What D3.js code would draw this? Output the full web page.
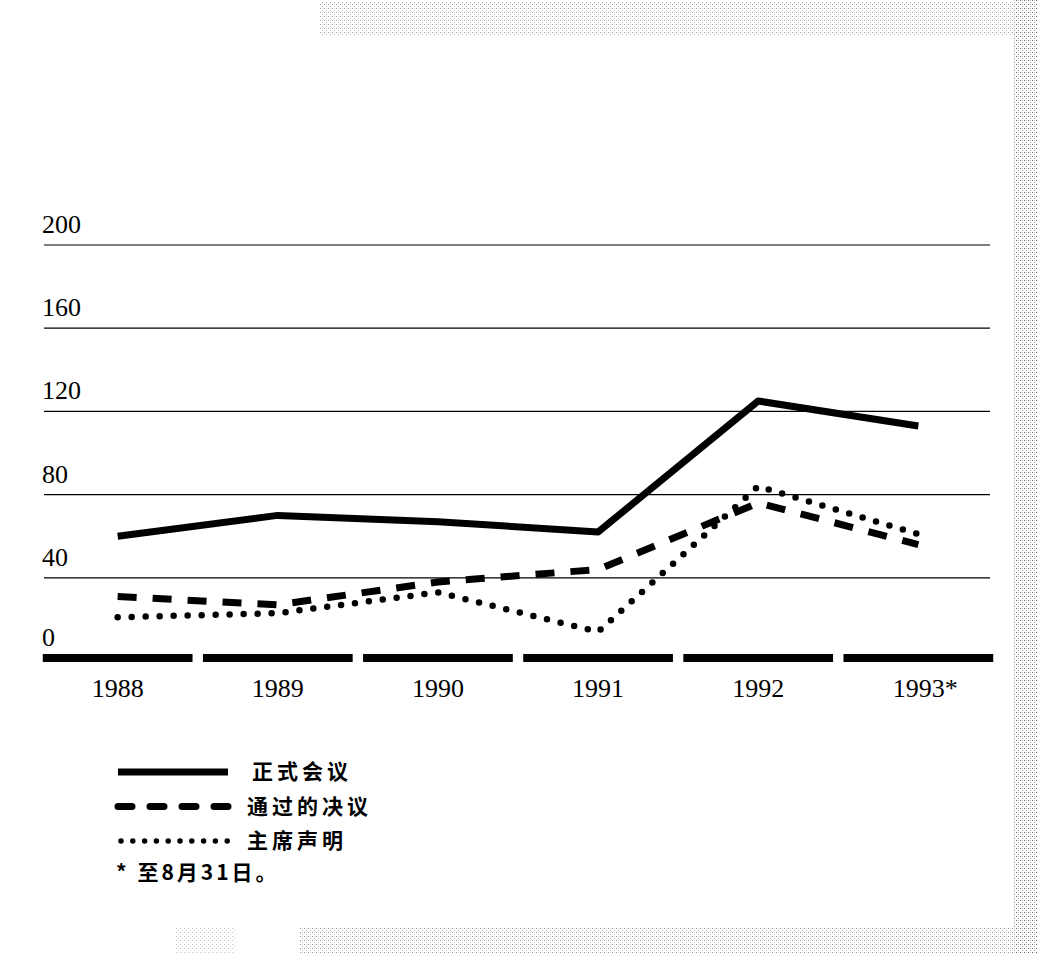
<!DOCTYPE html>
<html>
<head>
<meta charset="utf-8">
<script src="https://cdnjs.cloudflare.com/ajax/libs/d3/7.8.5/d3.min.js"></script>
<style>
  body { margin: 0; background: #fff; }
  svg { display: block; }
</style>
</head>
<body>
<svg id="plotarea"></svg>
<script>
// data
var years = ["1988", "1989", "1990", "1991", "1992", "1993*"];
var meetings = [60, 70, 67, 62, 125, 113];      // 正式会议
var resolutions = [31, 27, 38, 44, 76, 56];     // 通过的决议
var statements = [21, 23, 33, 14, 84, 61];      // 主席声明
var yTicks = [0, 40, 80, 120, 160, 200];
var seriesNames = ["正式会议", "通过的决议", "主席声明"];
var footnote = "* 至8月31日。";

var W = 1038, H = 953;
var svg = d3.select("#plotarea").attr("width", W).attr("height", H);

// scan noise at the page edges
var defs = svg.append("defs");
var pat = defs.append("pattern").attr("id", "grain")
    .attr("width", 4).attr("height", 4).attr("patternUnits", "userSpaceOnUse");
pat.append("rect").attr("width", 1).attr("height", 1).attr("fill", "#666");
pat.append("rect").attr("x", 2).attr("y", 2).attr("width", 1).attr("height", 1).attr("fill", "#999");
pat.append("rect").attr("x", 2).attr("y", 0).attr("width", 1).attr("height", 1).attr("fill", "#ccc");
svg.append("rect").attr("x", 1013).attr("y", 0).attr("width", 25).attr("height", H).attr("fill", "url(#grain)");
svg.append("rect").attr("x", 320).attr("y", 2).attr("width", 700).attr("height", 33).attr("fill", "url(#grain)").attr("opacity", 0.6);
svg.append("rect").attr("x", 175).attr("y", 928).attr("width", 60).attr("height", 25).attr("fill", "url(#grain)").attr("opacity", 0.35);
svg.append("rect").attr("x", 300).attr("y", 928).attr("width", 720).attr("height", 25).attr("fill", "url(#grain)").attr("opacity", 0.7);

var x = d3.scaleBand().domain(years).range([42, 994]).paddingInner(0.065).paddingOuter(0.005);
var y = d3.scaleLinear().domain([0, 200]).range([661, 245]);
var xc = function(d) { return x(d) + x.bandwidth() / 2; };

// gridlines
var g = svg.append("g");
g.selectAll(".grid")
    .data(yTicks.filter(function(d) { return d > 0; }))
    .enter().append("line")
    .attr("x1", 44).attr("x2", 990)
    .attr("y1", function(d) { return y(d); })
    .attr("y2", function(d) { return y(d); })
    .attr("stroke", "#000").attr("stroke-width", 1.2);

g.selectAll(".ylab")
    .data(yTicks)
    .enter().append("text")
    .attr("x", 42)
    .attr("y", function(d) { return y(d) - 12 + (d === 0 ? -3 : 0); })
    .attr("font-family", "Liberation Serif, serif")
    .attr("font-size", 26)
    .text(function(d) { return d; });

// thick broken baseline, one piece per year
g.selectAll(".base")
    .data(years)
    .enter().append("rect")
    .attr("x", function(d) { return x(d); })
    .attr("y", y(0) - 7)
    .attr("width", x.bandwidth())
    .attr("height", 8)
    .attr("fill", "#000");

g.selectAll(".xlab")
    .data(years)
    .enter().append("text")
    .attr("x", function(d) { return xc(d) + (d === "1993*" ? 7 : 0); })
    .attr("y", 697)
    .attr("text-anchor", "middle")
    .attr("font-family", "Liberation Serif, serif")
    .attr("font-size", 26)
    .text(function(d) { return d; });

var styles = [
    { dash: null, width: 7, cap: "butt" },
    { dash: "19,16", width: 7, cap: "butt" },
    { dash: "0,14", width: 6.5, cap: "round" }
];
var all = [meetings, resolutions, statements];

var line = d3.line()
    .x(function(d, i) { return xc(years[i]); })
    .y(function(d) { return y(d); });

all.forEach(function(vals, k) {
    g.append("path")
        .attr("d", line(vals))
        .attr("fill", "none")
        .attr("stroke", "#000")
        .attr("stroke-width", styles[k].width)
        .attr("stroke-linecap", styles[k].cap)
        .attr("stroke-linejoin", "round")
        .attr("stroke-dasharray", styles[k].dash);
});

// legend
var lg = svg.append("g");
seriesNames.forEach(function(name, k) {
    var ly = 772 + k * 34.5;
    lg.append("line")
        .attr("x1", k === 2 ? 121 : 118).attr("x2", 228)
        .attr("y1", ly).attr("y2", ly)
        .attr("stroke", "#000")
        .attr("stroke-width", k === 2 ? 5.5 : 7)
        .attr("stroke-linecap", k === 1 ? "round" : styles[k].cap)
        .attr("stroke-dasharray", k === 1 ? "14,18" : (k === 2 ? "0,11.8" : null));
    lg.append("text")
        .attr("x", k === 0 ? 252 : 247)
        .attr("y", ly + 7)
        .attr("font-family", "Noto Sans CJK SC")
        .attr("font-weight", "bold")
        .attr("font-size", 21)
        .attr("letter-spacing", 4)
        .text(name);
});
lg.append("text")
    .attr("x", 116).attr("y", 880)
    .attr("font-family", "Noto Sans CJK SC")
    .attr("font-weight", "bold")
    .attr("font-size", 21)
    .attr("letter-spacing", 3)
    .text(footnote);
</script>
</body>
</html>
